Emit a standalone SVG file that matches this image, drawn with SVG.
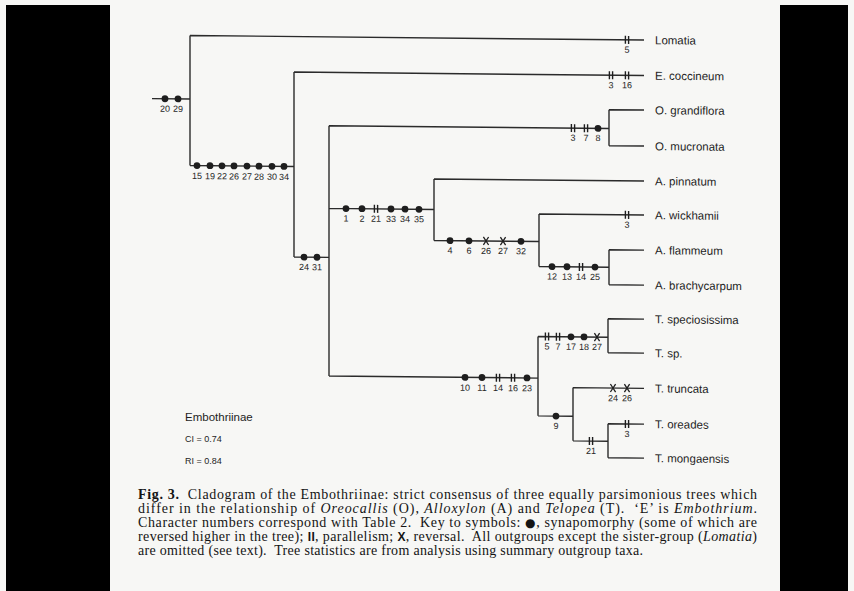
<svg xmlns="http://www.w3.org/2000/svg" xmlns:xlink="http://www.w3.org/1999/xlink" width="854" height="591" viewBox="0 0 854 591">
<style>
.ln{fill:none;stroke:#2b2b2b;stroke-width:1.4}
.n{font-family:"Liberation Sans",Arial,sans-serif;font-size:9px;fill:#262626;text-anchor:middle}
.tx{font-family:"Liberation Sans",Arial,sans-serif;font-size:11.5px;fill:#1e1e1e}
.cap{font-family:"Liberation Serif","Times New Roman",serif;font-size:14px;fill:#141414}
.sym{font-family:"Liberation Sans",Arial,sans-serif;font-weight:bold;font-size:12px}
.mk{stroke:#1e1e1e;stroke-width:1.4;fill:none}
</style>
<defs>
<circle id="d" r="3.4" fill="#1e1e1e"/>
<g id="p" class="mk"><path d="M-1.6,-4V4M1.6,-4V4"/></g>
<g id="x" class="mk" style="stroke-width:1.3"><path d="M-2.6,-4L2.6,4M2.6,-4L-2.6,4"/></g>
</defs>
<rect x="0" y="0" width="854" height="591" fill="#f7f7f5"/>
<rect x="6" y="5" width="104" height="586" fill="#000"/>
<rect x="780" y="5" width="68" height="586" fill="#000"/>
<g transform="matrix(1,0.01,0,1,0,-1.9)">
<g id="connectors">
<path class="ln" d="M152,99H190M190,35.5V165.5M190,35.5H644M190,165.5H294M294,71V256M294,71H644M294,256H329M329,124.3V374.6M329,124.3H609M609,105.5V141.5M609,105.5H644M609,141.5H644M329,207H434M434,176.5V238M434,176.5H644M434,238H539M539,210.5V263M539,210.5H644M539,263H609M609,245.6V280.6M609,245.6H644M609,280.6H644M329,374.6H538M538,333V412.4M538,333H608M608,314.6V348.6M608,314.6H644M608,348.6H644M538,412.4H573M573,383.8V437M573,383.8H644M573,437H608M608,419.6V453.6M608,419.6H644M608,453.6H644"/>
</g>
<g id="root-marks">
<use href="#d" x="165" y="99"/><use href="#d" x="178" y="99"/>
<text class="n" x="165" y="112">20</text><text class="n" x="178" y="112">29</text>
</g>
<g id="embothriinae-marks">
<use href="#d" x="197" y="165.5"/><use href="#d" x="210" y="165.5"/><use href="#d" x="222" y="165.5"/><use href="#d" x="234" y="165.5"/><use href="#d" x="247" y="165.5"/><use href="#d" x="259" y="165.5"/><use href="#d" x="272" y="165.5"/><use href="#d" x="284" y="165.5"/>
<text class="n" x="197" y="179">15</text><text class="n" x="210" y="179">19</text><text class="n" x="222" y="179">22</text><text class="n" x="234" y="179">26</text><text class="n" x="247" y="179">27</text><text class="n" x="259" y="179">28</text><text class="n" x="272" y="179">30</text><text class="n" x="284" y="179">34</text>
</g>
<g id="aot-marks">
<use href="#d" x="304" y="256"/><use href="#d" x="317" y="256"/>
<text class="n" x="304" y="269">24</text><text class="n" x="317" y="269">31</text>
</g>
<g id="alloxylon-marks">
<use href="#d" x="346" y="207"/><use href="#d" x="362" y="207"/><use href="#p" x="376" y="207"/><use href="#d" x="391" y="207"/><use href="#d" x="405" y="207"/><use href="#d" x="419" y="207"/>
<text class="n" x="346" y="220">1</text><text class="n" x="362" y="220">2</text><text class="n" x="376" y="220">21</text><text class="n" x="391" y="220">33</text><text class="n" x="405" y="220">34</text><text class="n" x="419" y="220">35</text>
</g>
<g id="a-sub-marks">
<use href="#d" x="450" y="238"/><use href="#d" x="469" y="238"/><use href="#x" x="486" y="238"/><use href="#x" x="503" y="238"/><use href="#d" x="521" y="238"/>
<text class="n" x="450" y="251">4</text><text class="n" x="469" y="251">6</text><text class="n" x="486" y="251">26</text><text class="n" x="503" y="251">27</text><text class="n" x="521" y="251">32</text>
</g>
<g id="a-fb-marks">
<use href="#d" x="552" y="263"/><use href="#d" x="567" y="263"/><use href="#p" x="581" y="263"/><use href="#d" x="595" y="263"/>
<text class="n" x="552" y="276">12</text><text class="n" x="567" y="276">13</text><text class="n" x="581" y="276">14</text><text class="n" x="595" y="276">25</text>
</g>
<g id="oreocallis-marks">
<use href="#p" x="573" y="124.3"/><use href="#p" x="586" y="124.3"/><use href="#d" x="598" y="124.3"/>
<text class="n" x="573" y="137">3</text><text class="n" x="586" y="137">7</text><text class="n" x="598" y="137">8</text>
</g>
<g id="telopea-marks">
<use href="#d" x="465" y="374.6"/><use href="#d" x="482" y="374.6"/><use href="#p" x="498" y="374.6"/><use href="#p" x="513" y="374.6"/><use href="#d" x="527" y="374.6"/>
<text class="n" x="465" y="388">10</text><text class="n" x="482" y="388">11</text><text class="n" x="498" y="388">14</text><text class="n" x="513" y="388">16</text><text class="n" x="527" y="388">23</text>
</g>
<g id="t-spec-marks">
<use href="#p" x="547" y="333"/><use href="#p" x="558" y="333"/><use href="#d" x="571" y="333"/><use href="#d" x="584" y="333"/><use href="#x" x="597" y="333"/>
<text class="n" x="547" y="346">5</text><text class="n" x="558" y="346">7</text><text class="n" x="571" y="346">17</text><text class="n" x="584" y="346">18</text><text class="n" x="597" y="346">27</text>
</g>
<g id="t-lower-marks">
<use href="#d" x="556" y="412.4"/><text class="n" x="556" y="425.5">9</text>
<use href="#p" x="591" y="437"/><text class="n" x="591" y="450">21</text>
</g>
<g id="lomatia">
<use href="#p" x="627" y="35.5"/><text class="n" x="627" y="48.5">5</text>
<text class="tx" x="655" y="39.5">Lomatia</text>
</g>
<g id="e-coccineum">
<use href="#p" x="611" y="71"/><use href="#p" x="627" y="71"/>
<text class="n" x="611" y="84">3</text><text class="n" x="627" y="84">16</text>
<text class="tx" x="655" y="75">E. coccineum</text>
</g>
<g id="o-grandiflora"><text class="tx" x="655" y="109.5">O. grandiflora</text></g>
<g id="o-mucronata"><text class="tx" x="655" y="145.5">O. mucronata</text></g>
<g id="a-pinnatum"><text class="tx" x="655" y="180.5">A. pinnatum</text></g>
<g id="a-wickhamii">
<use href="#p" x="627" y="210.5"/><text class="n" x="627" y="223.5">3</text>
<text class="tx" x="655" y="214.5">A. wickhamii</text>
</g>
<g id="a-flammeum"><text class="tx" x="655" y="249.6">A. flammeum</text></g>
<g id="a-brachycarpum"><text class="tx" x="655" y="284.6">A. brachycarpum</text></g>
<g id="t-speciosissima"><text class="tx" x="655" y="318.6">T. speciosissima</text></g>
<g id="t-sp"><text class="tx" x="655" y="352.6">T. sp.</text></g>
<g id="t-truncata">
<use href="#x" x="613" y="383.8"/><use href="#x" x="627" y="383.8"/>
<text class="n" x="613" y="397">24</text><text class="n" x="627" y="397">26</text>
<text class="tx" x="655" y="387.8">T. truncata</text>
</g>
<g id="t-oreades">
<use href="#p" x="627" y="419.6"/><text class="n" x="627" y="432.6">3</text>
<text class="tx" x="655" y="423.6">T. oreades</text>
</g>
<g id="t-mongaensis"><text class="tx" x="655" y="457.6">T. mongaensis</text></g>
</g>
<g id="stats">
<text class="tx" x="185" y="421">Embothriinae</text>
<text class="tx" style="font-size:9px" x="185" y="442">CI = 0.74</text>
<text class="tx" style="font-size:9px" x="185" y="464">RI = 0.84</text>
</g>
<g id="caption">
<text class="cap" x="138" y="498.5" textLength="619" lengthAdjust="spacing" xml:space="preserve"><tspan font-weight="bold">Fig. 3.</tspan>  Cladogram of the Embothriinae: strict consensus of three equally parsimonious trees which</text>
<text class="cap" x="138" y="512.7" textLength="619" lengthAdjust="spacing" xml:space="preserve">differ in the relationship of <tspan font-style="italic">Oreocallis</tspan> (O), <tspan font-style="italic">Alloxylon</tspan> (A) and <tspan font-style="italic">Telopea</tspan> (T).  ‘E’ is <tspan font-style="italic">Embothrium</tspan>.</text>
<text class="cap" x="138" y="526.9" textLength="619" lengthAdjust="spacing" xml:space="preserve">Character numbers correspond with Table 2.  Key to symbols: <tspan font-family="DejaVu Sans, sans-serif" font-size="12px">●</tspan>, synapomorphy (some of which are</text>
<text class="cap" x="138" y="541.1" textLength="619" lengthAdjust="spacing" xml:space="preserve">reversed higher in the tree); <tspan class="sym">II</tspan>, parallelism; <tspan class="sym">X</tspan>, reversal.  All outgroups except the sister-group (<tspan font-style="italic">Lomatia</tspan>)</text>
<text class="cap" x="138" y="555.3" textLength="505" lengthAdjust="spacing" xml:space="preserve">are omitted (see text).  Tree statistics are from analysis using summary outgroup taxa.</text>
</g>
</svg>
